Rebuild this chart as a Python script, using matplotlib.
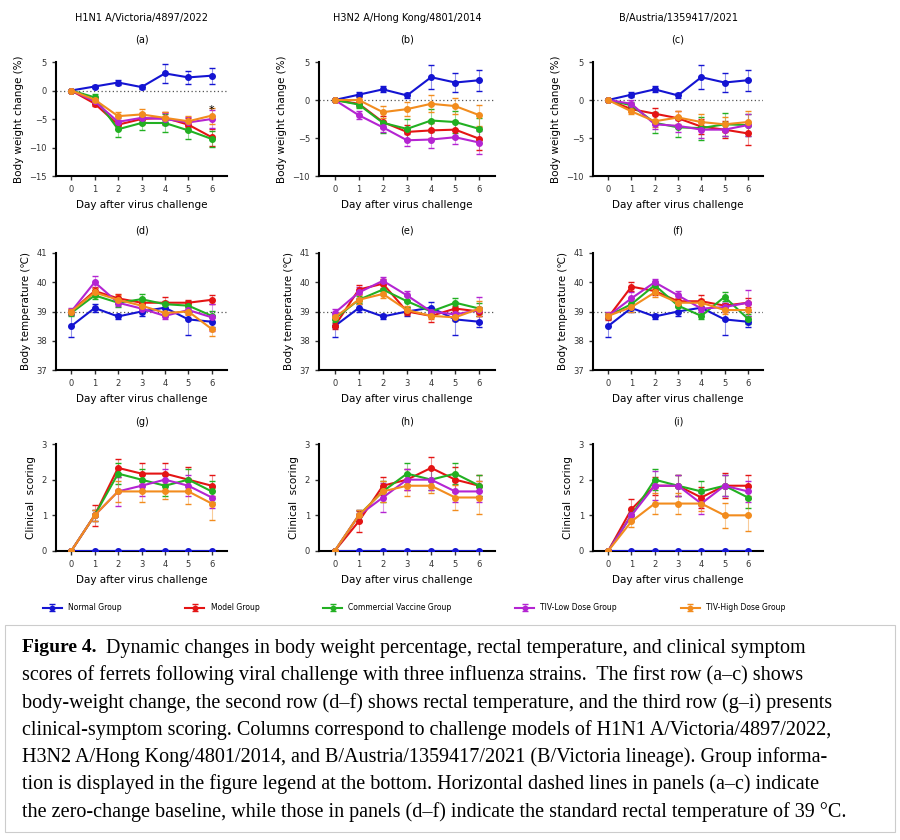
import matplotlib
matplotlib.use("Agg")
import matplotlib.pyplot as plt
from matplotlib.patches import Rectangle

DAYS = [0, 1, 2, 3, 4, 5, 6]
GROUPS = ["Normal Group", "Model Group", "Commercial Vaccine Group",
          "TIV-Low Dose Group", "TIV-High Dose Group"]
COLORS = ["#1414d2", "#e41414", "#22b022", "#b424d2", "#f28c1e"]
STRAINS = ["H1N1 A/Victoria/4897/2022", "H3N2 A/Hong Kong/4801/2014",
           "B/Austria/1359417/2021"]

# body weight change (%), order: normal, model, vaccine, low, high
WEIGHT = [
    [[0, 0.7, 1.4, 0.6, 3.0, 2.3, 2.6],
     [0, -2.3, -6.0, -5.0, -4.8, -6.0, -8.2],
     [0, -1.2, -6.8, -5.7, -5.7, -7.0, -8.5],
     [0, -1.9, -5.5, -4.8, -5.0, -5.6, -5.0],
     [0, -1.6, -4.5, -4.2, -4.8, -5.4, -4.4]],
    [[0, 0.7, 1.4, 0.6, 3.0, 2.3, 2.6],
     [0, -0.5, -2.9, -4.2, -4.0, -3.9, -5.1],
     [0, -0.6, -3.0, -3.8, -2.7, -2.9, -3.8],
     [0, -2.0, -3.6, -5.3, -5.2, -4.9, -5.6],
     [0, 0.0, -1.6, -1.2, -0.5, -0.8, -2.0]],
    [[0, 0.7, 1.4, 0.6, 3.0, 2.3, 2.6],
     [0, -1.2, -1.8, -2.4, -3.5, -3.9, -4.4],
     [0, -0.7, -3.0, -3.6, -3.7, -3.2, -3.3],
     [0, -0.5, -3.2, -3.4, -3.9, -3.9, -3.3],
     [0, -1.5, -2.8, -2.3, -2.9, -3.2, -2.9]],
]
WEIGHT_ERR = [
    [0, 0.3, 0.4, 0.3, 1.6, 1.2, 1.4],
    [0, 0.4, 0.8, 0.9, 1.0, 1.1, 1.5],
    [0, 0.5, 1.4, 1.3, 1.5, 1.5, 1.4],
    [0, 0.5, 0.6, 0.8, 1.1, 0.9, 1.5],
    [0, 0.4, 0.8, 0.9, 1.1, 1.0, 1.4],
]

TEMP = [
    [[38.5, 39.12, 38.83, 39.0, 39.13, 38.73, 38.65],
     [39.0, 39.7, 39.45, 39.3, 39.3, 39.3, 39.4],
     [38.95, 39.55, 39.3, 39.42, 39.25, 39.2, 38.85],
     [39.0, 40.0, 39.3, 39.1, 38.85, 39.05, 38.8],
     [39.0, 39.65, 39.4, 39.2, 38.95, 39.0, 38.4]],
    [[38.5, 39.12, 38.83, 39.0, 39.13, 38.73, 38.65],
     [38.5, 39.75, 39.95, 39.0, 38.85, 39.1, 39.0],
     [38.75, 39.4, 39.75, 39.35, 39.0, 39.3, 39.1],
     [38.95, 39.65, 40.05, 39.55, 39.0, 38.9, 39.05],
     [38.8, 39.4, 39.6, 39.05, 38.85, 38.8, 39.1]],
    [[38.5, 39.12, 38.83, 39.0, 39.13, 38.73, 38.65],
     [38.8, 39.85, 39.7, 39.35, 39.35, 39.2, 39.3],
     [38.85, 39.25, 39.9, 39.2, 38.85, 39.5, 38.75],
     [38.85, 39.45, 40.0, 39.55, 39.1, 39.15, 39.3],
     [38.85, 39.15, 39.65, 39.3, 39.3, 39.05, 39.05]],
]
TEMP_ERR = [
    [0.38, 0.12, 0.1, 0.15, 0.2, 0.55, 0.18],
    [0.1, 0.15, 0.15, 0.12, 0.2, 0.1, 0.15],
    [0.1, 0.12, 0.15, 0.18, 0.12, 0.15, 0.18],
    [0.12, 0.2, 0.12, 0.15, 0.1, 0.15, 0.45],
    [0.1, 0.15, 0.15, 0.15, 0.12, 0.12, 0.25],
]

SCORE = [
    [[0, 0, 0, 0, 0, 0, 0],
     [0, 1, 2.33, 2.17, 2.17, 2.0, 1.83],
     [0, 1, 2.17, 2.0, 1.83, 2.0, 1.67],
     [0, 1, 1.67, 1.83, 2.0, 1.83, 1.5],
     [0, 1, 1.67, 1.67, 1.67, 1.67, 1.33]],
    [[0, 0, 0, 0, 0, 0, 0],
     [0, 0.83, 1.83, 2.0, 2.33, 2.0, 1.83],
     [0, 1.0, 1.67, 2.17, 2.0, 2.17, 1.83],
     [0, 1.0, 1.5, 2.0, 2.0, 1.67, 1.67],
     [0, 1.0, 1.67, 1.83, 1.83, 1.5, 1.5]],
    [[0, 0, 0, 0, 0, 0, 0],
     [0, 1.17, 1.83, 1.83, 1.5, 1.83, 1.83],
     [0, 1.0, 2.0, 1.83, 1.67, 1.83, 1.5],
     [0, 1.0, 1.83, 1.83, 1.33, 1.83, 1.67],
     [0, 0.83, 1.33, 1.33, 1.33, 1.0, 1.0]],
]
SCORE_ERR = [
    [0, 0, 0, 0, 0, 0, 0],
    [0, 0.3, 0.25, 0.3, 0.3, 0.35, 0.3],
    [0, 0.15, 0.3, 0.3, 0.3, 0.3, 0.3],
    [0, 0.15, 0.4, 0.3, 0.3, 0.3, 0.3],
    [0, 0.15, 0.3, 0.3, 0.2, 0.35, 0.45],
]

CAPTION = [
    "Dynamic changes in body weight percentage, rectal temperature, and clinical symptom",
    "scores of ferrets following viral challenge with three influenza strains.  The first row (a\u2013c) shows",
    "body-weight change, the second row (d\u2013f) shows rectal temperature, and the third row (g\u2013i) presents",
    "clinical-symptom scoring. Columns correspond to challenge models of H1N1 A/Victoria/4897/2022,",
    "H3N2 A/Hong Kong/4801/2014, and B/Austria/1359417/2021 (B/Victoria lineage). Group informa-",
    "tion is displayed in the figure legend at the bottom. Horizontal dashed lines in panels (a\u2013c) indicate",
    "the zero-change baseline, while those in panels (d\u2013f) indicate the standard rectal temperature of 39 \u00b0C.",
]

W, H = 900, 840
fig = plt.figure(figsize=(9, 8.4), dpi=100)
plt.rcParams["font.family"] = "DejaVu Sans"

col_x = [(56, 227), (319, 495), (593, 763)]
rows = [
    dict(top=62, bot=176, data=WEIGHT, err=WEIGHT_ERR, ylabel="Body weight change (%)",
         base=0),
    dict(top=253, bot=370, data=TEMP, err=TEMP_ERR, ylabel="Body temperature (\u2103)",
         base=39),
    dict(top=444, bot=551, data=SCORE, err=SCORE_ERR, ylabel="Clinical  scoring",
         base=None),
]
ylims = [[(-15, 5), (-10, 5), (-10, 5)], [(37, 41)] * 3, [(0, 3)] * 3]
yticks = [[[-15, -10, -5, 0, 5], [-10, -5, 0, 5], [-10, -5, 0, 5]],
          [[37, 38, 39, 40, 41]] * 3, [[0, 1, 2, 3]] * 3]
letters = "abcdefghi"

for r, row in enumerate(rows):
    for c, (x0, x1) in enumerate(col_x):
        ax = fig.add_axes([x0 / W, 1 - row["bot"] / H, (x1 - x0) / W,
                           (row["bot"] - row["top"]) / H])
        for g in range(5):
            ax.errorbar(DAYS, row["data"][c][g], yerr=row["err"][g], color=COLORS[g],
                        ecolor=COLORS[g], elinewidth=0.8, capsize=2, marker="o",
                        markersize=4, lw=1.5, label=GROUPS[g] if r == 0 and c == 0 else None,
                        zorder=3)
        for coll in ax.collections:
            coll.set_alpha(0.45)
        if row["base"] is not None:
            ax.axhline(row["base"], color="#555555", ls=(0, (1, 2)), lw=0.9, zorder=1)
        ax.set_xlim(-0.65, 6.65)
        ax.set_ylim(*ylims[r][c])
        ax.set_yticks(yticks[r][c])
        ax.set_xticks(DAYS)
        ax.tick_params(labelsize=6, length=3, width=1, colors="#333333")
        for s in ("top", "right"):
            ax.spines[s].set_visible(False)
        for s in ("left", "bottom"):
            ax.spines[s].set_linewidth(1.5)
        ax.set_xlabel("Day after virus challenge", fontsize=7.5)
        ax.set_ylabel(row["ylabel"], fontsize=7.5)
        ax.set_title(f"({letters[r * 3 + c]})", fontsize=7, pad=14)
        if r == 0:
            fig.text((x0 + x1) / 2 / W, 1 - 18 / H, STRAINS[c], ha="center",
                     va="center", fontsize=7)
        if r == 0 and c == 0:
            ax.text(6, -3.4, "*", ha="center", va="center", fontsize=8)

handles, labels = fig.axes[0].get_legend_handles_labels()
fig.legend(handles, labels, loc="center", bbox_to_anchor=(0.04, 1 - 612 / H, 0.84, 0.01),
           mode="expand", ncol=5, frameon=False, fontsize=5.5, markerscale=0.8,
           handlelength=2.5)

# caption box
fig.patches.append(Rectangle((5 / W, 1 - 832 / H), 890 / W, 207 / H,
                             transform=fig.transFigure, fill=False,
                             edgecolor="#cccccc", lw=0.8))
serif = ["Liberation Serif", "DejaVu Serif"]
renderer = fig.canvas.get_renderer()
right_edge = 877
base_size = 12.5


def fitted_text(x_px, y_px, s, **kw):
    t = fig.text(x_px / W, 1 - y_px / H, s, fontsize=base_size, family=serif,
                 va="center", **kw)
    width = t.get_window_extent(renderer).width
    t.set_fontsize(min(base_size * (right_edge - x_px) / width, 14.5))
    return t


fig.text(22 / W, 1 - 648 / H, "Figure 4.", fontsize=14, family=serif,
         fontweight="bold", va="center")
fitted_text(106, 648, CAPTION[0])
for i, line in enumerate(CAPTION[1:], start=1):
    fitted_text(22, 648 + i * 27.3, line)

fig.savefig("out.png", dpi=100)
